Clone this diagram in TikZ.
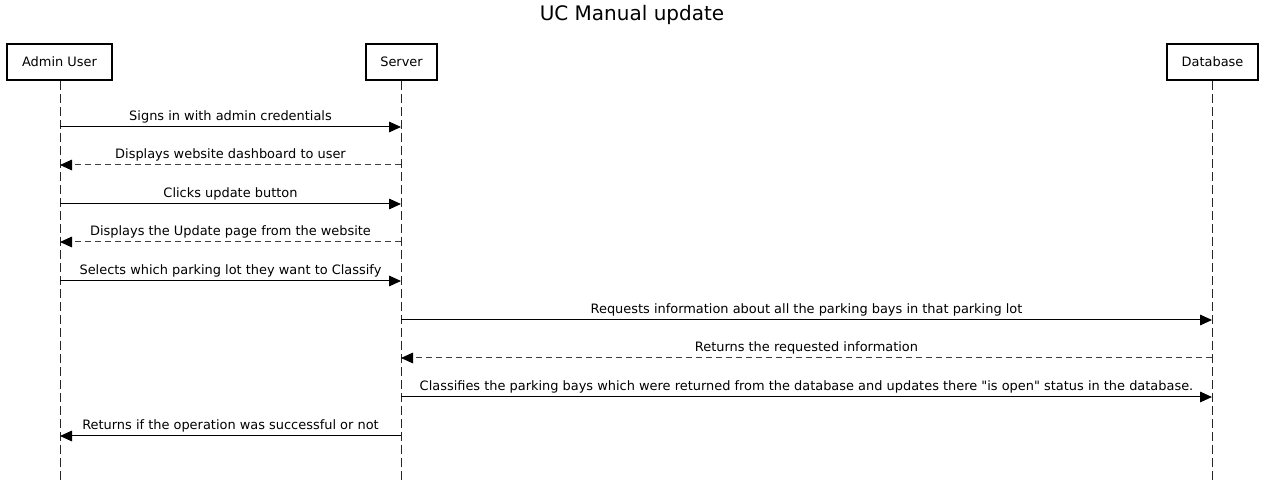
\documentclass[tikz,border=0pt]{standalone}
\usepackage{fontspec}
\setmainfont{DejaVu Sans}
\newfontfamily\dvplain{DejaVu Sans}
\usetikzlibrary{arrows.meta}
\begin{document}
\begin{tikzpicture}[x=0.75pt,y=-0.75pt,
  actor/.style={draw=black,line width=1.5pt,fill=white,inner sep=0pt,font=\dvplain\fontsize{9.7pt}{11pt}\selectfont},
  lifeline/.style={draw=black!85,line width=0.75pt,dash pattern=on 6.75pt off 3pt},
  msg/.style={draw=black,line width=0.75pt,-{Triangle[length=9pt,width=8pt]}},
  ret/.style={msg,draw=black!75,dash pattern=on 4.5pt off 3pt,-{Triangle[length=9pt,width=8pt,fill=black,color=black]}},
  lbl/.style={font=\dvplain\fontsize{9.7pt}{11pt}\selectfont,inner sep=0pt}]
\useasboundingbox (0,0) rectangle (1265,484);
\node[font=\dvplain\fontsize{15pt}{18pt}\selectfont] (title) at (632,15) {UC Manual update};
\node[actor,minimum width=78.75pt,minimum height=27pt] (au) at (59.5,62) {Admin User};
\node[actor,minimum width=53.25pt,minimum height=27pt] (sv) at (401.5,62) {Server};
\node[actor,minimum width=68.25pt,minimum height=27pt] (db) at (1212.5,62) {Database};
\coordinate (aue) at (60,484);
\coordinate (sve) at (401,484);
\coordinate (dbe) at (1212,484);
\draw[lifeline] (au.south -| aue) -- (aue);
\draw[lifeline] (sv.south -| sve) -- (sve);
\draw[lifeline] (db.south -| dbe) -- (dbe);
% message points
\foreach \n/\y in {1/127,2/165,3/204,4/242,5/281,6/320,7/358,8/397,9/436}{
  \coordinate (a\n) at (60,\y);
  \coordinate (s\n) at (401,\y);
  \coordinate (d\n) at (1212,\y);
}
\draw[msg] (a1) -- node[lbl,above=2.5pt] (m1) {Signs in with admin credentials} (s1);
\draw[ret] (s2) -- node[lbl,above=2.5pt] (m2) {Displays website dashboard to user} (a2);
\draw[msg] (a3) -- node[lbl,above=2.5pt] (m3) {Clicks update button} (s3);
\draw[ret] (s4) -- node[lbl,above=2.5pt] (m4) {Displays the Update page from the website} (a4);
\draw[msg] (a5) -- node[lbl,above=2.5pt] (m5) {Selects which parking lot they want to Classify} (s5);
\draw[msg] (s6) -- node[lbl,above=2.5pt] (m6) {Requests information about all the parking bays in that parking lot} (d6);
\draw[ret] (d7) -- node[lbl,above=2.5pt] (m7) {Returns the requested information} (s7);
\draw[msg] (s8) -- node[lbl,above=2.5pt] (m8) {Classifies the parking bays which were returned from the database and updates there "is open" status in the database.} (d8);
\draw[msg] (s9) -- node[lbl,above=2.5pt] (m9) {Returns if the operation was successful or not} (a9);
\end{tikzpicture}
\end{document}
